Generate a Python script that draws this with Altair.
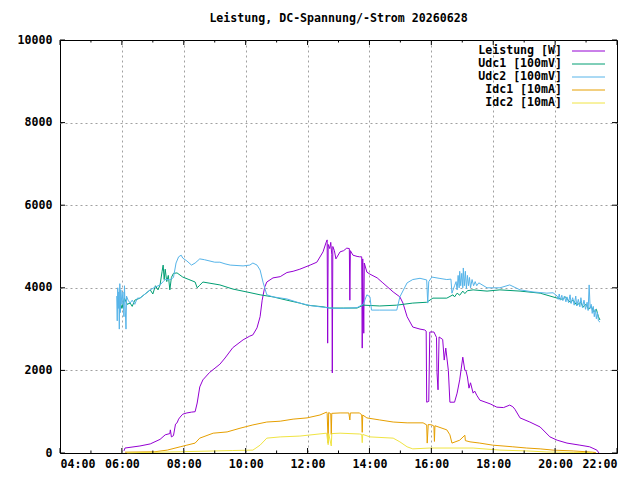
"""Leistung / DC-Spannung / DC-Strom day chart (gnuplot look)"""

import pandas as pd
import altair as alt

FONT = "DejaVu Sans Mono"
FONT_SIZE = 11.6
TITLE = "Leistung, DC-Spannung/-Strom 20260628"

SERIES = ["Leistung [W]", "Udc1 [100mV]", "Udc2 [100mV]", "Idc1 [10mA]", "Idc2 [10mA]"]
COLORS = ["#9400d3", "#009e73", "#56b4e9", "#e69f00", "#f0e442"]

MAJOR_HOURS = [4, 6, 8, 10, 12, 14, 16, 18, 20, 22]
MINOR_HOURS = [5, 7, 9, 11, 13, 15, 17, 19, 21]
Y_TICKS = [0, 2000, 4000, 6000, 8000, 10000]

leistung_t = [
    "06:04", "06:06", "06:35", "06:55", "07:14", "07:24", "07:33", "07:34", "07:36", "07:40",
    "07:44", "07:47", "07:50", "07:53", "07:58", "08:06", "08:15", "08:22", "08:26", "08:31",
    "08:37", "08:50", "09:10", "09:20", "09:35", "09:55", "10:08", "10:14", "10:22", "10:28",
    "10:32", "10:37", "10:41", "10:53", "11:07", "11:20", "11:32", "11:45", "11:59", "12:05",
    "12:18", "12:30", "12:36", "12:38", "12:39", "12:40", "12:43", "12:45", "12:47", "12:48",
    "12:49", "12:52", "12:55", "13:03", "13:10", "13:16", "13:21", "13:22", "13:23", "13:28",
    "13:36", "13:41", "13:45", "13:46", "13:47", "13:49", "13:50", "13:55", "14:01", "14:15",
    "14:26", "14:46", "14:59", "15:05", "15:13", "15:24", "15:38", "15:47", "15:50", "15:51",
    "15:55", "15:57", "16:05", "16:10", "16:11", "16:13", "16:15", "16:22", "16:25", "16:28",
    "16:33", "16:36", "16:45", "16:50", "16:55", "17:01", "17:05", "17:07", "17:10", "17:13",
    "17:16", "17:21", "17:24", "17:28", "17:34", "17:54", "18:07", "18:20", "18:32", "18:38",
    "18:42", "18:52", "19:11", "19:31", "19:50", "20:04", "20:23", "20:48", "21:07", "21:21",
    "21:25",
]
leistung_v = [
    50, 120, 170, 220, 330, 440, 470, 560, 390, 420,
    700, 730, 820, 870, 940, 970, 990, 1000, 1210, 1600,
    1770, 1950, 2150, 2300, 2550, 2740, 2830, 2860, 3030, 3300,
    3700, 4020, 4140, 4240, 4270, 4370, 4400, 4450, 4520, 4550,
    4620, 4870, 5100, 5160, 2660, 5050, 4950, 5100, 4800, 1940,
    5000, 4900, 4700, 4870, 4900, 4960, 4950, 3700, 4900, 4790,
    4760, 4750, 4750, 2540, 4700, 2900, 4600, 4380, 4330, 4240,
    4120, 3900, 3780, 3630, 3300, 3050, 3000, 2980, 2950, 1230,
    1250, 2930, 2930, 2800, 1940, 1530, 2810, 2750, 2250, 2540,
    2000, 1230, 1230, 1450, 1770, 2320, 2000, 2000, 1840, 1570,
    1700, 1450, 1500, 1400, 1280, 1190, 1110, 1100, 1160, 1120,
    1060, 850, 750, 630, 390, 310, 240, 190, 150, 70,
    0,
]

udc1_t = [
    "05:58", "06:00", "06:05", "06:10", "06:16", "06:20", "06:25", "06:35", "06:45", "06:55",
    "07:00", "07:05", "07:10", "07:14", "07:18", "07:20", "07:22", "07:24", "07:27", "07:30",
    "07:33", "07:36", "07:40", "07:47", "07:58", "08:10", "08:22", "08:26", "08:30", "08:37",
    "09:10", "09:35", "10:02", "10:28", "10:53", "11:20", "11:45", "11:59", "12:30", "12:43",
    "13:10", "13:36", "13:48", "14:20", "14:53", "15:24", "15:51", "16:03", "16:30", "16:42",
    "16:45", "16:50", "16:55", "17:01", "17:05", "17:10", "17:21", "17:48", "18:13", "18:52",
    "19:31", "20:04", "20:15", "20:20", "20:29", "20:35", "20:42", "20:50", "20:54", "21:00",
    "21:05", "21:10", "21:15", "21:20", "21:24", "21:27",
]
udc1_v = [
    3600, 3500, 3750, 3600, 3630, 3550, 3700, 3750, 3850, 3950,
    3850, 4050, 3950, 4070, 4400, 4550, 4200, 4450, 4150, 4300,
    3950, 4250, 4350, 4360, 4260, 4200, 4140, 4000, 4050, 4140,
    4070, 3970, 3900, 3830, 3780, 3700, 3630, 3580, 3540, 3510,
    3510, 3510, 3580, 3560, 3580, 3630, 3650, 3750, 3750, 3830,
    3780, 3870, 3820, 3920, 3860, 3930, 3950, 3920, 3950, 3920,
    3870, 3750, 3720, 3780, 3650, 3700, 3580, 3650, 3530, 3600,
    3480, 3550, 3420, 3480, 3300, 3220,
]

udc2_t = [
    "05:50", "05:51", "05:52", "05:53", "05:54", "05:55", "05:56", "05:57", "05:58", "06:00",
    "06:02", "06:04", "06:05", "06:06", "06:08", "06:09", "06:12", "06:16", "06:20", "06:25",
    "06:30", "06:35", "06:45", "06:55", "07:05", "07:14", "07:20", "07:24", "07:30", "07:33",
    "07:40", "07:45", "07:50", "07:55", "07:58", "08:06", "08:15", "08:22", "08:31", "08:40",
    "09:00", "09:10", "09:20", "09:30", "09:55", "10:08", "10:14", "10:22", "10:28", "10:34",
    "10:41", "10:53", "11:20", "11:45", "12:05", "12:24", "12:43", "13:03", "13:22", "13:36",
    "13:48", "13:55", "14:01", "14:04", "14:20", "14:40", "14:53", "14:59", "15:13", "15:24",
    "15:38", "15:51", "15:53", "15:55", "16:01", "16:15", "16:30", "16:38", "16:40", "16:45",
    "16:48", "16:50", "16:52", "16:54", "16:55", "16:57", "16:59", "17:01", "17:02", "17:04",
    "17:06", "17:08", "17:10", "17:12", "17:14", "17:16", "17:19", "17:22", "17:25", "17:28",
    "17:32", "17:48", "18:13", "18:32", "18:52", "19:17", "19:44", "19:56", "20:04", "20:06",
    "20:08", "20:10", "20:13", "20:15", "20:18", "20:21", "20:23", "20:26", "20:29", "20:31",
    "20:34", "20:37", "20:40", "20:42", "20:45", "20:48", "20:50", "20:53", "20:56", "20:59",
    "21:02", "21:04", "21:06", "21:08", "21:10", "21:12", "21:14", "21:16", "21:18", "21:20",
    "21:22", "21:24", "21:27",
]
udc2_v = [
    3800, 3200, 4000, 3500, 3900, 3000, 4100, 3400, 3950, 3600,
    3900, 3300, 4050, 3650, 3000, 3800, 3700, 3630, 3700, 3600,
    3750, 3750, 3850, 3950, 4020, 4070, 4150, 4200, 4200, 4190,
    4250, 4600, 4750, 4790, 4720, 4650, 4550, 4600, 4700, 4680,
    4620, 4620, 4580, 4550, 4530, 4550, 4600, 4550, 4430, 4120,
    3830, 3780, 3730, 3630, 3570, 3540, 3510, 3500, 3510, 3520,
    3600, 3830, 3780, 3460, 3460, 3460, 3460, 3780, 4120, 4200,
    4230, 4190, 3630, 4150, 4260, 4230, 4200, 4210, 3870, 4050,
    4150, 3950, 4300, 4000, 4400, 4050, 4350, 4000, 4480, 4050,
    4400, 3980, 4300, 4050, 4250, 4000, 4200, 4050, 4150, 4050,
    4120, 4000, 4000, 4070, 3950, 3900, 3870, 3880, 3800, 3720,
    3850, 3700, 3820, 3690, 3800, 3660, 3780, 3640, 3830, 3620,
    3760, 3580, 3800, 3560, 3720, 3540, 3760, 3520, 3700, 3480,
    3650, 3450, 4070, 3500, 3600, 3380, 3550, 3300, 3480, 3250,
    3400, 3200, 3170,
]

idc1_t = [
    "06:06", "07:04", "07:28", "07:53", "08:06", "08:22", "08:31", "08:57", "09:24", "09:49",
    "10:14", "10:41", "11:07", "11:32", "11:59", "12:24", "12:37", "12:38", "12:40", "12:41",
    "12:45", "12:46", "12:47", "13:03", "13:20", "13:22", "13:23", "13:41", "13:45", "13:46",
    "13:47", "13:55", "14:20", "14:46", "15:13", "15:44", "15:51", "15:52", "15:54", "16:01",
    "16:05", "16:06", "16:07", "16:30", "16:36", "16:40", "16:55", "17:05", "17:06", "17:15",
    "17:34", "17:59", "18:38", "19:05", "19:31", "19:56", "20:35", "21:13", "21:19",
]
idc1_v = [
    20, 30, 70, 150, 190, 240, 360, 480, 510, 600,
    680, 750, 770, 820, 850, 920, 990, 960, 240, 980,
    950, 450, 960, 970, 970, 800, 970, 970, 920, 500,
    920, 850, 800, 750, 730, 730, 680, 240, 690, 680,
    650, 280, 660, 560, 440, 240, 310, 430, 300, 270,
    240, 190, 150, 120, 100, 70, 50, 20, 10,
]

idc2_t = [
    "06:10", "07:53", "09:35", "10:14", "10:28", "10:41", "11:07", "11:45", "12:37", "12:40",
    "12:41", "12:46", "12:47", "13:03", "13:41", "13:45", "13:46", "13:47", "14:01", "14:46",
    "14:59", "15:13", "15:24", "15:57", "17:21", "18:13", "19:05", "19:44", "20:35", "21:13",
]
idc2_v = [
    5, 30, 60, 70, 190, 360, 390, 410, 480, 200,
    470, 170, 470, 480, 460, 450, 250, 450, 390, 360,
    270, 150, 100, 120, 120, 70, 50, 25, 15, 10,
]

TIMES = [leistung_t, udc1_t, udc2_t, idc1_t, idc2_t]
VALUES = [leistung_v, udc1_v, udc2_v, idc1_v, idc2_v]


def to_hours(t: str) -> float:
    h, m = t.split(":")
    return int(h) + int(m) / 60


x_scale = alt.Scale(domain=[4, 22], nice=False, zero=False)
y_scale = alt.Scale(domain=[0, 10000], nice=False)

# grid is drawn only inside, the frame itself is the view stroke
x_axis = alt.Axis(
    values=MAJOR_HOURS,
    labelExpr="(datum.value < 10 ? '0' : '') + datum.value + ':00'",
    labelPadding=5,
    gridOpacity={"condition": {"test": "datum.value == 4 || datum.value == 22", "value": 0}, "value": 1},
)
y_axis = alt.Axis(
    values=Y_TICKS,
    format="d",
    labelPadding=8,
    gridOpacity={"condition": {"test": "datum.value == 0 || datum.value == 10000", "value": 0}, "value": 1},
)

layers = []

# one layer per series so the drawing order follows gnuplot's
for name, color, ts, vs in zip(SERIES, COLORS, TIMES, VALUES):
    df = pd.DataFrame({"hour": [to_hours(t) for t in ts], "value": vs})
    layers.append(
        alt.Chart(df).mark_line(color=color, strokeWidth=1).encode(
            x=alt.X("hour:Q", scale=x_scale, axis=x_axis, title=None),
            y=alt.Y("value:Q", scale=y_scale, axis=y_axis, title=None),
        )
    )

# inward ticks (gnuplot style), bottom/top and left/right
for hours, size in [(MAJOR_HOURS, 5), (MINOR_HOURS, 2.5)]:
    hdf = pd.DataFrame({"h": hours})
    layers.append(alt.Chart(hdf).mark_rule(color="black", y2Offset=-size).encode(
        x=alt.X("h:Q", scale=x_scale), y=alt.datum(0), y2=alt.datum(0)))
    layers.append(alt.Chart(hdf).mark_rule(color="black", y2Offset=size).encode(
        x=alt.X("h:Q", scale=x_scale), y=alt.datum(10000), y2=alt.datum(10000)))

ydf = pd.DataFrame({"v": Y_TICKS})
layers.append(alt.Chart(ydf).mark_rule(color="black", x2Offset=5).encode(
    y=alt.Y("v:Q", scale=y_scale), x=alt.datum(4), x2=alt.datum(4)))
layers.append(alt.Chart(ydf).mark_rule(color="black", x2Offset=-5).encode(
    y=alt.Y("v:Q", scale=y_scale), x=alt.datum(22), x2=alt.datum(22)))

# key in the top right corner: label right-aligned, line sample on its right
for i, (name, color) in enumerate(zip(SERIES, COLORS)):
    row_y = 11 + 13 * i
    ldf = pd.DataFrame({"label": [name]})
    layers.append(alt.Chart(ldf).mark_text(
        align="right", baseline="middle", font=FONT, fontSize=FONT_SIZE, fontWeight="bold", color="black"
    ).encode(x=alt.value(502), y=alt.value(row_y), text="label:N"))
    layers.append(alt.Chart(ldf).mark_rule(color=color, strokeWidth=1).encode(
        x=alt.value(512), x2=alt.value(545), y=alt.value(row_y)))

chart = alt.layer(*layers).properties(
    width=557,
    height=413,
    background="white",
    autosize=alt.AutoSizeParams(type="none"),
    padding={"left": 52, "top": 32, "right": 15, "bottom": 19},
    title=alt.TitleParams(TITLE, font=FONT, fontSize=FONT_SIZE, fontWeight="bold", anchor="middle",
                          color="black", offset=9),
).configure_view(
    stroke="black", strokeWidth=1
).configure_axis(
    labelFont=FONT, labelFontSize=FONT_SIZE, labelFontWeight="bold", labelColor="black",
    domain=False, ticks=False, grid=True, gridColor="#a0a0a0", gridDash=[2, 3], gridWidth=1,
)

chart.save("out.html", embed_options={"renderer": "svg", "actions": False})
